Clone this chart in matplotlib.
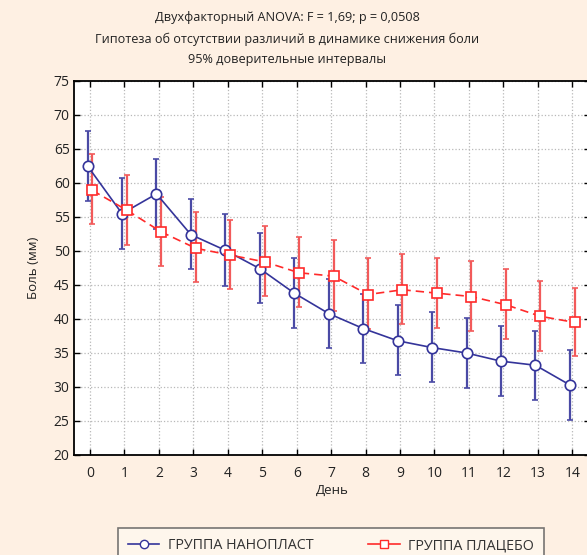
import numpy as np
import matplotlib
matplotlib.use('Agg')
import matplotlib.pyplot as plt
from matplotlib.lines import Line2D

plt.rcParams['font.family'] = ['Open Sans', 'DejaVu Sans']

# day numbers
days = np.arange(15)

# group "nanoplast" means and 95% CI bounds
nano_mean = [62.5, 55.5, 58.4, 52.4, 50.1, 47.4, 43.8, 40.8, 38.6, 36.8, 35.8, 35.0, 33.8, 33.2, 30.3]
nano_hi = [67.7, 60.7, 63.6, 57.7, 55.4, 52.6, 48.9, 45.9, 43.7, 42.0, 41.0, 40.1, 39.0, 38.3, 35.5]
nano_lo = [57.3, 50.3, 53.3, 47.3, 44.9, 42.3, 38.7, 35.7, 33.5, 31.7, 30.7, 29.9, 28.7, 28.1, 25.2]

# group "placebo"
plac_mean = [58.9, 56.0, 52.8, 50.4, 49.4, 48.4, 46.8, 46.3, 43.6, 44.3, 43.8, 43.3, 42.1, 40.4, 39.5]
plac_hi = [64.2, 61.2, 58.0, 55.7, 54.6, 53.7, 52.1, 51.6, 48.9, 49.6, 49.0, 48.5, 47.4, 45.6, 44.6]
plac_lo = [53.9, 50.9, 47.8, 45.5, 44.4, 43.4, 41.7, 41.2, 38.6, 39.2, 38.7, 38.2, 37.1, 35.3, 34.5]

bg = '#FEF0E3'
blue = '#34349A'
red = '#FF2A2A'

fig = plt.figure(figsize=(5.87, 5.55), dpi=100, facecolor=bg)
ax = fig.add_axes([74.5 / 587, 1 - 455 / 555, 515 / 587, 374 / 555])
ax.set_facecolor('white')

nano_err = [np.array(nano_mean) - np.array(nano_lo), np.array(nano_hi) - np.array(nano_mean)]
plac_err = [np.array(plac_mean) - np.array(plac_lo), np.array(plac_hi) - np.array(plac_mean)]

ax.errorbar(days - 0.07, nano_mean, yerr=nano_err, color=blue, ecolor='#4A4AA5',
            elinewidth=1.6, capsize=2, capthick=1.2, lw=1.2, ls='-',
            marker='o', ms=7.5, mfc='white', mec=blue, mew=1.2, zorder=3)
ax.errorbar(days + 0.07, plac_mean, yerr=plac_err, color=red, ecolor='#F25A5A',
            elinewidth=1.6, capsize=2, capthick=1.2, lw=1.2, ls=(0, (5, 3)),
            marker='s', ms=7.5, mfc='white', mec=red, mew=1.2, zorder=3)

ax.set_xlim(-0.45, 14.5)
ax.set_ylim(20, 75)
ax.set_xticks(days)
ax.set_yticks(np.arange(20, 76, 5))
ax.grid(True, color='#B8B8B8', ls=':', lw=0.9)
ax.set_axisbelow(True)
ax.tick_params(direction='in', length=4, width=1, top=True, right=True, labelsize=10,
               colors='black', labelcolor='#222222')
ax.tick_params(axis='x', pad=8)
for s in ax.spines.values():
    s.set_linewidth(1.3)

ax.set_xlabel('День', fontsize=9.5, color='#222222', labelpad=2)
ax.set_ylabel('Боль (мм)', fontsize=9.5, color='#222222', labelpad=10)

cx = 287 / 587
fig.text(cx, 1 - 18 / 555, 'Двухфакторный ANOVA: F = 1,69; p = 0,0508', ha='center', va='center', fontsize=9.1, color='#222222')
fig.text(cx, 1 - 39 / 555, 'Гипотеза об отсутствии различий в динамике снижения боли', ha='center', va='center', fontsize=9.1, color='#222222')
fig.text(cx, 1 - 59 / 555, '95% доверительные интервалы', ha='center', va='center', fontsize=9.1, color='#222222')

h = [Line2D([], [], color=blue, lw=1.2, marker='o', ms=6, mfc='white', mec=blue),
     Line2D([], [], color=red, lw=1.2, marker='s', ms=6, mfc='white', mec=red)]
l = ['ГРУППА НАНОПЛАСТ', 'ГРУППА ПЛАЦЕБО']
leg = fig.legend(h, l, ncol=2, loc='upper center', bbox_to_anchor=(331 / 587, 1 - 521 / 555),
                 frameon=True, fancybox=False, facecolor='#FFF8EF', edgecolor='#555555',
                 fontsize=10.3, columnspacing=3.8, handlelength=2.2, handletextpad=0.6,
                 borderpad=0.7)
leg.get_frame().set_linewidth(1.2)
for t in leg.get_texts():
    t.set_color('#333333')

fig.savefig('out.png', dpi=100, facecolor=bg)
